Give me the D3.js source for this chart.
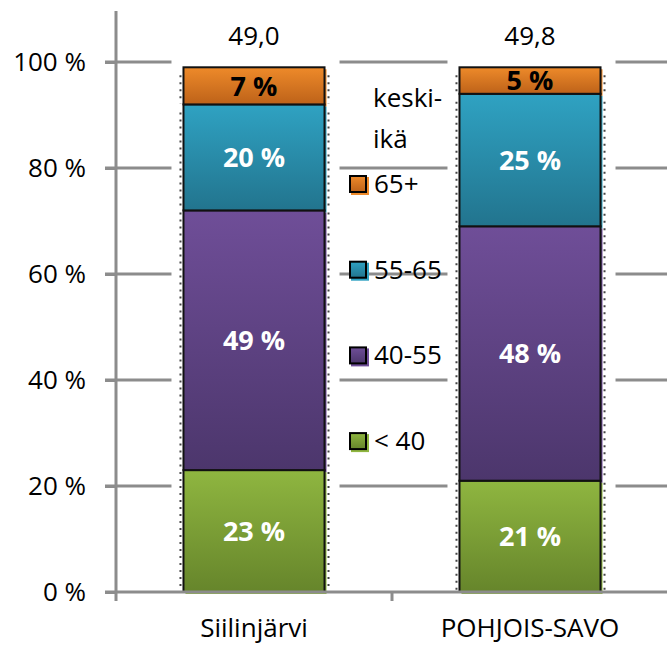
<!DOCTYPE html>
<html>
<head>
<meta charset="utf-8">
<script src="https://cdn.jsdelivr.net/npm/d3@7"></script>
<style>
  html, body { margin: 0; padding: 0; background: #ffffff; }
  svg { display: block; font-family: "Open Sans", "Noto Sans", sans-serif; }
</style>
</head>
<body>
<svg id="chart" width="667" height="646"></svg>
<script>
// Age structure by region (share of group, %), stacked bottom to top
const categories = ["Siilinjärvi", "POHJOIS-SAVO"];
const ageGroups = ["< 40", "40-55", "55-65", "65+"];
const under40 = [23, 21];
const age40to55 = [49, 48];
const age55to65 = [20, 25];
const age65plus = [7, 5];
const meanAgeLabels = ["49,0", "49,8"];
const yTickValues = [0, 20, 40, 60, 80, 100];
const legendTitle = ["keski-", "ikä"];

const seriesValues = [under40, age40to55, age55to65, age65plus];

// Segment colours: [top of gradient, bottom of gradient]
const palette = {
  "< 40":  ["#8fb640", "#66852b"],
  "40-55": ["#6f4e98", "#4c366c"],
  "55-65": ["#2fa2c2", "#22748e"],
  "65+":   ["#ee8a2a", "#bd6219"]
};
const labelColor = { "< 40": "#ffffff", "40-55": "#ffffff", "55-65": "#ffffff", "65+": "#000000" };

const svg = d3.select("#chart");
const W = 667, H = 646;
const axisX = 116, yBottom = 592, yTop = 62;
const axisColor = "#8c8c8c";

const y = d3.scaleLinear().domain([0, 100]).range([yBottom, yTop]);
const x = d3.scaleBand().domain(categories).range([axisX, 668])
  .paddingInner(0.489).paddingOuter(0.2445);

// gradients
const defs = svg.append("defs");
ageGroups.forEach((g, i) => {
  const lg = defs.append("linearGradient").attr("id", "grad" + i)
    .attr("x1", 0).attr("y1", 0).attr("x2", 0).attr("y2", 1);
  lg.append("stop").attr("offset", "0%").attr("stop-color", palette[g][0]);
  lg.append("stop").attr("offset", "100%").attr("stop-color", palette[g][1]);
});

// horizontal gridlines (with their tick stubs)
svg.append("g").selectAll("line").data(yTickValues.filter(d => d > 0)).join("line")
  .attr("x1", axisX - 11).attr("x2", W)
  .attr("y1", d => y(d)).attr("y2", d => y(d))
  .attr("stroke", axisColor).attr("stroke-width", 3);

// white clearing around each bar
svg.append("g").selectAll("rect").data(categories).join("rect")
  .attr("x", d => x(d) - 12)
  .attr("width", x.bandwidth() + 27)
  .attr("y", y(100) - 10)
  .attr("height", y(0) - y(100) + 8)
  .attr("fill", "#ffffff");

// stacked segments
const stackData = categories.map((c, ci) => {
  let base = 0;
  return ageGroups.map((g, gi) => {
    const v = seriesValues[gi][ci];
    const seg = { cat: c, group: g, gi, v, y0: base, y1: base + v };
    base += v;
    return seg;
  });
}).flat();

// dotted guides along bar sides
const guides = svg.append("g");
stackData.forEach(s => {
  const top = y(s.y1) + (s.gi >= 2 ? 8 : 2);
  const bottom = y(s.y0) - 1;
  [x(s.cat) - 3, x(s.cat) + x.bandwidth() + 4].forEach(gx => {
    guides.append("line")
      .attr("x1", gx).attr("x2", gx).attr("y1", top).attr("y2", bottom)
      .attr("stroke", "#444444").attr("stroke-width", 2)
      .attr("stroke-dasharray", "2,5");
  });
});

const segs = svg.append("g");
// soft offset edge
segs.selectAll("rect.shadow").data(stackData).join("rect")
  .attr("class", "shadow")
  .attr("x", d => x(d.cat) + 2)
  .attr("y", d => y(d.y1) + 2)
  .attr("width", x.bandwidth())
  .attr("height", d => y(d.y0) - y(d.y1))
  .attr("fill", d => palette[d.group][0]);
segs.selectAll("rect.seg").data(stackData).join("rect")
  .attr("class", "seg")
  .attr("x", d => x(d.cat))
  .attr("y", d => y(d.y1))
  .attr("width", x.bandwidth())
  .attr("height", d => y(d.y0) - y(d.y1))
  .attr("fill", d => `url(#grad${d.gi})`)
  .attr("stroke", "#111111").attr("stroke-width", 2);

// value labels
segs.selectAll("text").data(stackData).join("text")
  .attr("x", d => x(d.cat) + x.bandwidth() / 2)
  .attr("y", d => (y(d.y0) + y(d.y1)) / 2)
  .attr("dy", "0.36em")
  .attr("text-anchor", "middle")
  .attr("font-size", 27).attr("font-weight", 700)
  .attr("fill", d => labelColor[d.group])
  .text(d => `${d.v} %`);

// mean age above bars
svg.append("g").selectAll("text").data(categories).join("text")
  .attr("x", d => x(d) + x.bandwidth() / 2)
  .attr("y", 45)
  .attr("text-anchor", "middle")
  .attr("font-size", 26).attr("fill", "#000")
  .text((d, i) => meanAgeLabels[i]);

// y axis
const yAxis = svg.append("g").attr("transform", `translate(${axisX},0)`)
  .call(d3.axisLeft(y).tickValues(yTickValues).tickSize(11).tickPadding(19)
    .tickFormat(d => `${d} %`));
yAxis.select(".domain").remove();
yAxis.selectAll(".tick line").attr("stroke", axisColor).attr("stroke-width", 3);
yAxis.selectAll(".tick text").attr("font-size", 26).attr("fill", "#000")
  .attr("font-family", "Open Sans, sans-serif");
yAxis.append("line").attr("x1", 0).attr("x2", 0).attr("y1", 11).attr("y2", yBottom + 9)
  .attr("stroke", axisColor).attr("stroke-width", 3);

// x axis
const xAxis = svg.append("g").attr("transform", `translate(0,${yBottom})`);
xAxis.append("line").attr("x1", axisX - 11).attr("x2", W).attr("y1", 0).attr("y2", 0)
  .attr("stroke", axisColor).attr("stroke-width", 3);
const boundaries = [x.step() + axisX];
xAxis.selectAll("line.tk").data(boundaries).join("line").attr("class", "tk")
  .attr("x1", d => d).attr("x2", d => d).attr("y1", 0).attr("y2", 9)
  .attr("stroke", axisColor).attr("stroke-width", 3);
xAxis.selectAll("text").data(categories).join("text")
  .attr("x", d => x(d) + x.bandwidth() / 2)
  .attr("y", 45)
  .attr("text-anchor", "middle")
  .attr("font-size", 26).attr("fill", "#000")
  .text(d => d);

// legend
const legend = svg.append("g");
legend.selectAll("text.title").data(legendTitle).join("text").attr("class", "title")
  .attr("x", 373).attr("y", (d, i) => 107 + i * 41)
  .attr("font-size", 26).attr("fill", "#000").text(d => d);

const legendOrder = ageGroups.slice().reverse();
const items = legend.selectAll("g.item").data(legendOrder).join("g").attr("class", "item")
  .attr("transform", (d, i) => `translate(350,${193 + i * 85.7})`);
items.append("rect").attr("x", 1).attr("y", -16).attr("width", 18).attr("height", 18)
  .attr("fill", d => palette[d][0]);
items.append("rect").attr("x", 0).attr("y", -17).attr("width", 16).attr("height", 16)
  .attr("fill", d => `url(#grad${ageGroups.indexOf(d)})`)
  .attr("stroke", "#000").attr("stroke-width", 2);
items.append("text").attr("x", 24).attr("y", 0)
  .attr("font-size", 26).attr("fill", "#000").text(d => d);
</script>
</body>
</html>
